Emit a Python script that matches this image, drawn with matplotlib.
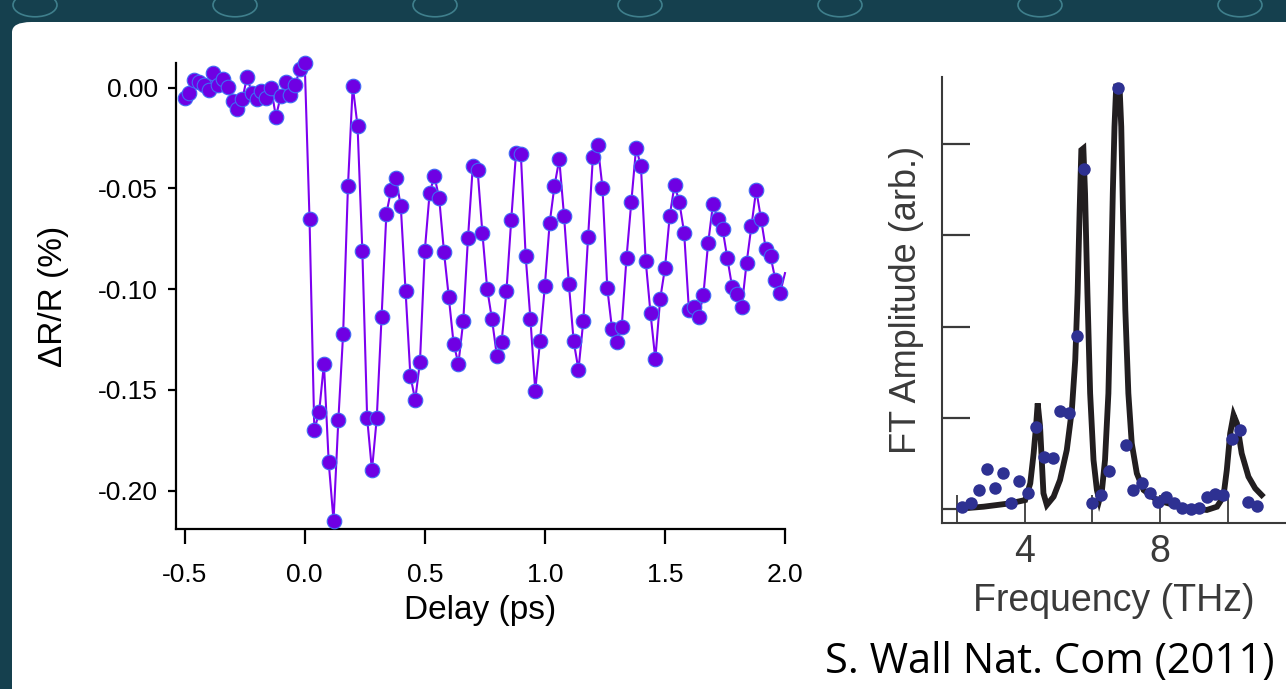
import matplotlib
matplotlib.use("Agg")
import matplotlib.pyplot as plt
from matplotlib.patches import FancyBboxPatch, Circle

plt.rcParams['font.family'] = ['Liberation Sans', 'DejaVu Sans']
plt.rcParams['axes.unicode_minus'] = False

# ---------------- left panel: reflectivity transient ----------------
delay_ps = [-0.50, -0.48, -0.46, -0.44, -0.42, -0.40, -0.38, -0.36, -0.34, -0.32,
            -0.30, -0.28, -0.26, -0.24, -0.22, -0.20, -0.18, -0.16, -0.14, -0.12,
            -0.10, -0.08, -0.06, -0.04, -0.02, 0.00,
            0.02, 0.04, 0.06, 0.08, 0.10, 0.12, 0.14, 0.16, 0.18, 0.20,
            0.22, 0.24, 0.26, 0.28, 0.30, 0.32, 0.34, 0.36, 0.38, 0.40,
            0.42, 0.44, 0.46, 0.48, 0.50, 0.52, 0.54, 0.56, 0.58, 0.60,
            0.62, 0.64, 0.66, 0.68, 0.70, 0.72, 0.74, 0.76, 0.78, 0.80,
            0.82, 0.84, 0.86, 0.88, 0.90, 0.92, 0.94, 0.96, 0.98, 1.00,
            1.02, 1.04, 1.06, 1.08, 1.10, 1.12, 1.14, 1.16, 1.18, 1.20,
            1.22, 1.24, 1.26, 1.28, 1.30, 1.32, 1.34, 1.36, 1.38, 1.40,
            1.42, 1.44, 1.46, 1.48, 1.50, 1.52, 1.54, 1.56, 1.58, 1.60,
            1.62, 1.64, 1.66, 1.68, 1.70, 1.72, 1.74, 1.76, 1.78, 1.80,
            1.82, 1.84, 1.86, 1.88, 1.90, 1.92, 1.94, 1.96, 1.98, 2.00]

dR_R = [-0.0050, -0.0024, 0.0038, 0.0027, 0.0015, -0.0010, 0.0072, 0.0014, 0.0043, 0.0002,
        -0.0065, -0.0107, -0.0058, 0.0054, -0.0027, -0.0057, -0.0014, -0.0052, 0.0000, -0.0144,
        -0.0042, 0.0028, -0.0038, 0.0014, 0.0092, 0.0123,
        -0.065, -0.170, -0.161, -0.137, -0.186, -0.215, -0.165, -0.122, -0.049, 0.001,
        -0.019, -0.081, -0.164, -0.190, -0.164, -0.114, -0.0625, -0.0506, -0.045, -0.0587,
        -0.101, -0.143, -0.155, -0.136, -0.081, -0.0524, -0.0438, -0.0549, -0.0815, -0.104,
        -0.127, -0.137, -0.116, -0.0744, -0.039, -0.041, -0.0723, -0.100, -0.115, -0.133,
        -0.126, -0.101, -0.0655, -0.0323, -0.0329, -0.0834, -0.115, -0.1505, -0.1256, -0.0983,
        -0.0671, -0.0488, -0.0355, -0.0638, -0.0974, -0.1259, -0.140, -0.1158, -0.0742, -0.0345,
        -0.0284, -0.0496, -0.0996, -0.120, -0.126, -0.1188, -0.0844, -0.0567, -0.0298, -0.039,
        -0.086, -0.112, -0.1348, -0.105, -0.0897, -0.0635, -0.0483, -0.0567, -0.072, -0.1105,
        -0.1087, -0.1136, -0.103, -0.0771, -0.0579, -0.065, -0.0701, -0.0847, -0.099, -0.1025,
        -0.1087, -0.087, -0.0688, -0.0506, -0.065, -0.080, -0.0837, -0.0954, -0.1017, -0.092]

left_xticks = [-0.5, 0.0, 0.5, 1.0, 1.5, 2.0]
left_yticks = [0.00, -0.05, -0.10, -0.15, -0.20]

# ---------------- right panel: Fourier transform ----------------
ft_freq = [2.14, 2.40, 2.65, 2.89, 3.12, 3.35, 3.60, 3.83, 4.08, 4.33, 4.57, 4.82,
           5.04, 5.31, 5.54, 5.75, 6.00, 6.26, 6.49, 6.75, 6.99, 7.21, 7.46, 7.70,
           7.93, 8.18, 8.42, 8.66, 8.91, 9.14, 9.38, 9.63, 9.87, 10.12, 10.36, 10.59, 10.86]
ft_amp = [0.025, 0.069, 0.208, 0.439, 0.227, 0.398, 0.069, 0.311, 0.179, 0.896, 0.574, 0.563,
          1.075, 1.049, 1.897, 3.725, 0.062, 0.154, 0.420, 4.613, 0.702, 0.208, 0.281, 0.172,
          0.080, 0.135, 0.062, 0.015, -0.004, 0.015, 0.135, 0.161, 0.154, 0.768, 0.866, 0.073, 0.036]

fit_freq = [2.19, 2.78, 3.57, 4.01, 4.16, 4.26, 4.33, 4.38, 4.45, 4.50, 4.55, 4.65,
            4.85, 5.04, 5.24, 5.39, 5.49, 5.56, 5.62, 5.67, 5.73, 5.78, 5.85, 5.93,
            6.03, 6.13, 6.20, 6.28, 6.37, 6.47, 6.54, 6.60, 6.65, 6.70, 6.80, 6.85,
            6.90, 6.97, 7.06, 7.16, 7.31, 7.51, 7.90, 8.59, 9.38, 9.68, 9.87, 9.97,
            10.07, 10.17, 10.27, 10.41, 10.61, 10.81, 11.00]
fit_amp = [0.007, 0.025, 0.062, 0.098, 0.281, 0.610, 0.903, 1.158, 0.903, 0.537, 0.172, 0.044,
           0.135, 0.318, 0.647, 1.085, 1.634, 2.365, 3.278, 3.936, 3.954, 3.461, 2.365, 1.268,
           0.537, 0.208, 0.098, 0.208, 0.537, 1.268, 2.365, 3.461, 4.192, 4.631, 4.631, 4.192,
           3.278, 2.182, 1.268, 0.720, 0.391, 0.208, 0.098, 0.025, -0.011, 0.025, 0.135, 0.427,
           0.829, 1.030, 0.939, 0.610, 0.354, 0.226, 0.153]

right_xticks = [2, 4, 6, 8, 10]
right_xlabels = ['', '4', '', '8', '']
right_yticks = [0, 1, 2, 3, 4]

fig = plt.figure(figsize=(12.86, 6.89), dpi=100)
fig.patch.set_facecolor('#15404e')
# faint bubble arcs in the top border
for cx in [35, 235, 435, 640, 840, 1040, 1240]:
    fig.patches.append(Circle((cx / 1286, 1 - 5 / 689), 22 / 1286, transform=fig.transFigure,
                              facecolor='none', edgecolor='#3f7f8c', lw=1.2, zorder=-20))
# white slide area inside the dark border
fig.patches.append(FancyBboxPatch((12 / 1286, -0.05), 1.2, 1.05 - 22 / 689,
                                  boxstyle='round,pad=0,rounding_size=0.015',
                                  transform=fig.transFigure, facecolor='white',
                                  edgecolor='none', zorder=-10))

# left axes
ax = fig.add_axes([176 / 1286, 1 - 529.3 / 689, (785 - 176) / 1286, (529.3 - 63) / 689])
ax.set_facecolor('none')
ax.plot(delay_ps, dR_R, color='#7d00f0', lw=1.5, marker='o', ms=10.5,
        mfc='#6f00e3', mec='#3f6cf5', mew=0.8, markevery=list(range(len(delay_ps) - 1)),
        clip_on=False, zorder=3)
ax.set_xlim(-0.536, 2.0)
ax.set_ylim(-0.2192, 0.0123)
ax.set_xticks(left_xticks)
ax.set_xticklabels(['%.1f' % v for v in left_xticks])
ax.set_yticks(left_yticks)
ax.set_yticklabels(['%.2f' % v for v in left_yticks])
for s in ['top', 'right']:
    ax.spines[s].set_visible(False)
for s in ['left', 'bottom']:
    ax.spines[s].set_linewidth(1.6)
ax.tick_params(axis='both', width=1.6, labelsize=19, colors='black')
ax.tick_params(axis='x', length=11, pad=13)
ax.tick_params(axis='y', length=6, pad=7)
ax.set_xlabel('Delay (ps)', fontsize=24, labelpad=6)
ax.set_ylabel('ΔR/R (%)', fontsize=24, labelpad=21)

# right axes
gray = '#3a3a3a'
ax2 = fig.add_axes([942.3 / 1286, 1 - 523.3 / 689, (1286 - 942.3) / 1286, (523.3 - 76.7) / 689])
ax2.set_facecolor('none')
ax2.plot(fit_freq, fit_amp, color='#221e20', lw=4.2, solid_joinstyle='miter', zorder=2)
ax2.plot(ft_freq, ft_amp, 'o', color='#2e3192', ms=9, mec='none', zorder=3)
ax2.set_xlim(1.56, 11.72)
ax2.set_ylim(-0.157, 4.74)
ax2.set_xticks(right_xticks)
ax2.set_xticklabels(right_xlabels)
ax2.set_yticks(right_yticks)
ax2.set_yticklabels([])
for s in ['top', 'right']:
    ax2.spines[s].set_visible(False)
for s in ['left', 'bottom']:
    ax2.spines[s].set_linewidth(1.5)
    ax2.spines[s].set_color(gray)
ax2.tick_params(axis='x', direction='in', length=20, width=1.3, color=gray,
                labelcolor=gray, labelsize=27, pad=8)
ax2.tick_params(axis='y', direction='in', length=20, width=1.6, color=gray)
ax2.set_xlabel('Frequency (THz)', fontsize=27, color=gray, labelpad=9)
ax2.set_ylabel('FT Amplitude (arb.)', fontsize=26, color=gray, labelpad=10)

fig.text(825 / 1286, 1 - 662 / 689, 'S. Wall Nat. Com (2011)', fontsize=30,
         family=['Open Sans', 'DejaVu Sans'], ha='left', va='center', color='black')

fig.savefig('out.png', dpi=100, facecolor=fig.get_facecolor())
